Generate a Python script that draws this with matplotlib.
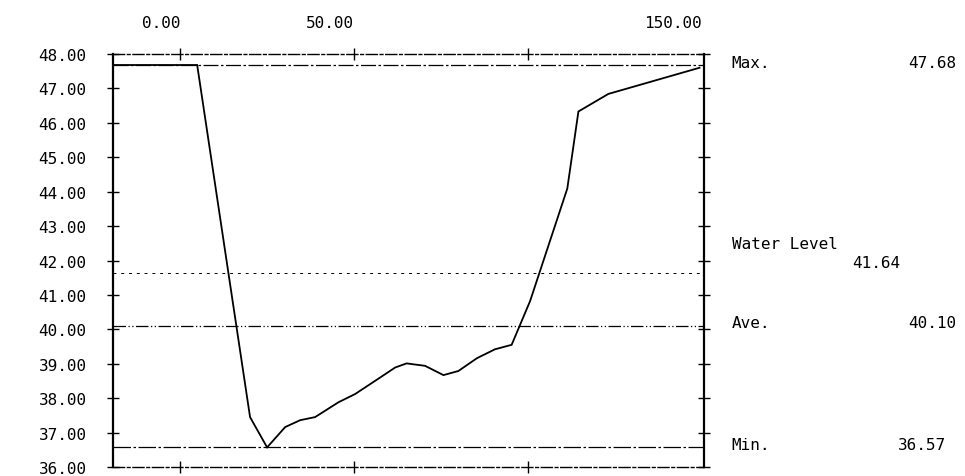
import matplotlib

matplotlib.use("Agg")
import matplotlib.pyplot as plt  # noqa: E402

# cross-section profile (station, elevation)
station = [-19.3, 4.9, 20.1, 25.0, 30.2, 34.5, 38.8, 45.5, 50.3, 57.5, 61.8, 65.1,
           70.4, 75.7, 80.0, 85.3, 90.5, 95.3, 100.6, 111.3, 114.5, 123.1, 149.3]
elev = [47.68, 47.68, 37.45, 36.57, 37.16, 37.36, 37.45, 37.88, 38.12, 38.60, 38.89, 39.01,
        38.94, 38.67, 38.79, 39.16, 39.42, 39.55, 40.82, 44.09, 46.33, 46.84, 47.60]

max_level = 47.68
water_level = 41.64
ave_level = 40.10
min_level = 36.57

x_labels = [0, 50, 150]
x_ticks = [0, 50, 100]
y_ticks = list(range(36, 49))

font = "DejaVu Sans Mono"
fs = 11.5

fig = plt.figure(figsize=(9.65, 4.77), dpi=100)
ax = fig.add_axes([113 / 965, 9 / 477, 591 / 965, 413 / 477])
ax.set_xlim(-19.3, 150.6)
ax.set_ylim(36, 48)

ax.plot(station, elev, color="black", linewidth=1.3, solid_joinstyle="miter")

# reference levels
ax.axhline(max_level, color="black", linewidth=0.9, linestyle=(0, (12, 2, 2, 2)))
ax.axhline(water_level, color="black", linewidth=0.7, linestyle=(0, (3, 5)))
ax.axhline(ave_level, color="black", linewidth=0.9, linestyle=(0, (10, 2, 1, 2, 1, 2)))
ax.axhline(min_level, color="black", linewidth=0.9, linestyle=(0, (14, 2, 2, 2)))

# frame
for side in ["left", "right"]:
    ax.spines[side].set_linewidth(1.6)
for side in ["top", "bottom"]:
    ax.spines[side].set_linewidth(1.0)
    ax.spines[side].set_linestyle((0, (8, 2, 2, 2)))

ax.set_yticks(y_ticks)
ax.set_yticklabels([f"{v:.2f}" for v in y_ticks], family=font, fontsize=fs)
ax.set_xticks(x_ticks)
ax.set_xticklabels([])
ax.tick_params(axis="y", direction="inout", length=8, width=1.0, left=True, right=True, pad=15)
ax.tick_params(axis="x", direction="inout", length=9, width=1.0, top=True, bottom=True)

for v in x_labels:
    ax.text(v, 1.077, f"{v:.2f}", transform=ax.get_xaxis_transform(),
            ha="right", va="center", family=font, fontsize=fs)

# side annotations (text sits slightly above its level line)
tx = ax.get_yaxis_transform()
ax.text(1.047, 47.76, "Max.", transform=tx, ha="left", va="center", family=font, fontsize=fs)
ax.text(1.427, 47.76, f"{max_level:.2f}", transform=tx, ha="right", va="center", family=font, fontsize=fs)
ax.text(1.047, 42.5, "Water Level", transform=tx, ha="left", va="center", family=font, fontsize=fs)
ax.text(1.332, 41.93, f"{water_level:.2f}", transform=tx, ha="right", va="center", family=font, fontsize=fs)
ax.text(1.047, 40.19, "Ave.", transform=tx, ha="left", va="center", family=font, fontsize=fs)
ax.text(1.427, 40.19, f"{ave_level:.2f}", transform=tx, ha="right", va="center", family=font, fontsize=fs)
ax.text(1.047, 36.66, "Min.", transform=tx, ha="left", va="center", family=font, fontsize=fs)
ax.text(1.41, 36.66, f"{min_level:.2f}", transform=tx, ha="right", va="center", family=font, fontsize=fs)

fig.savefig("out.png", dpi=100)
plt.close(fig)
